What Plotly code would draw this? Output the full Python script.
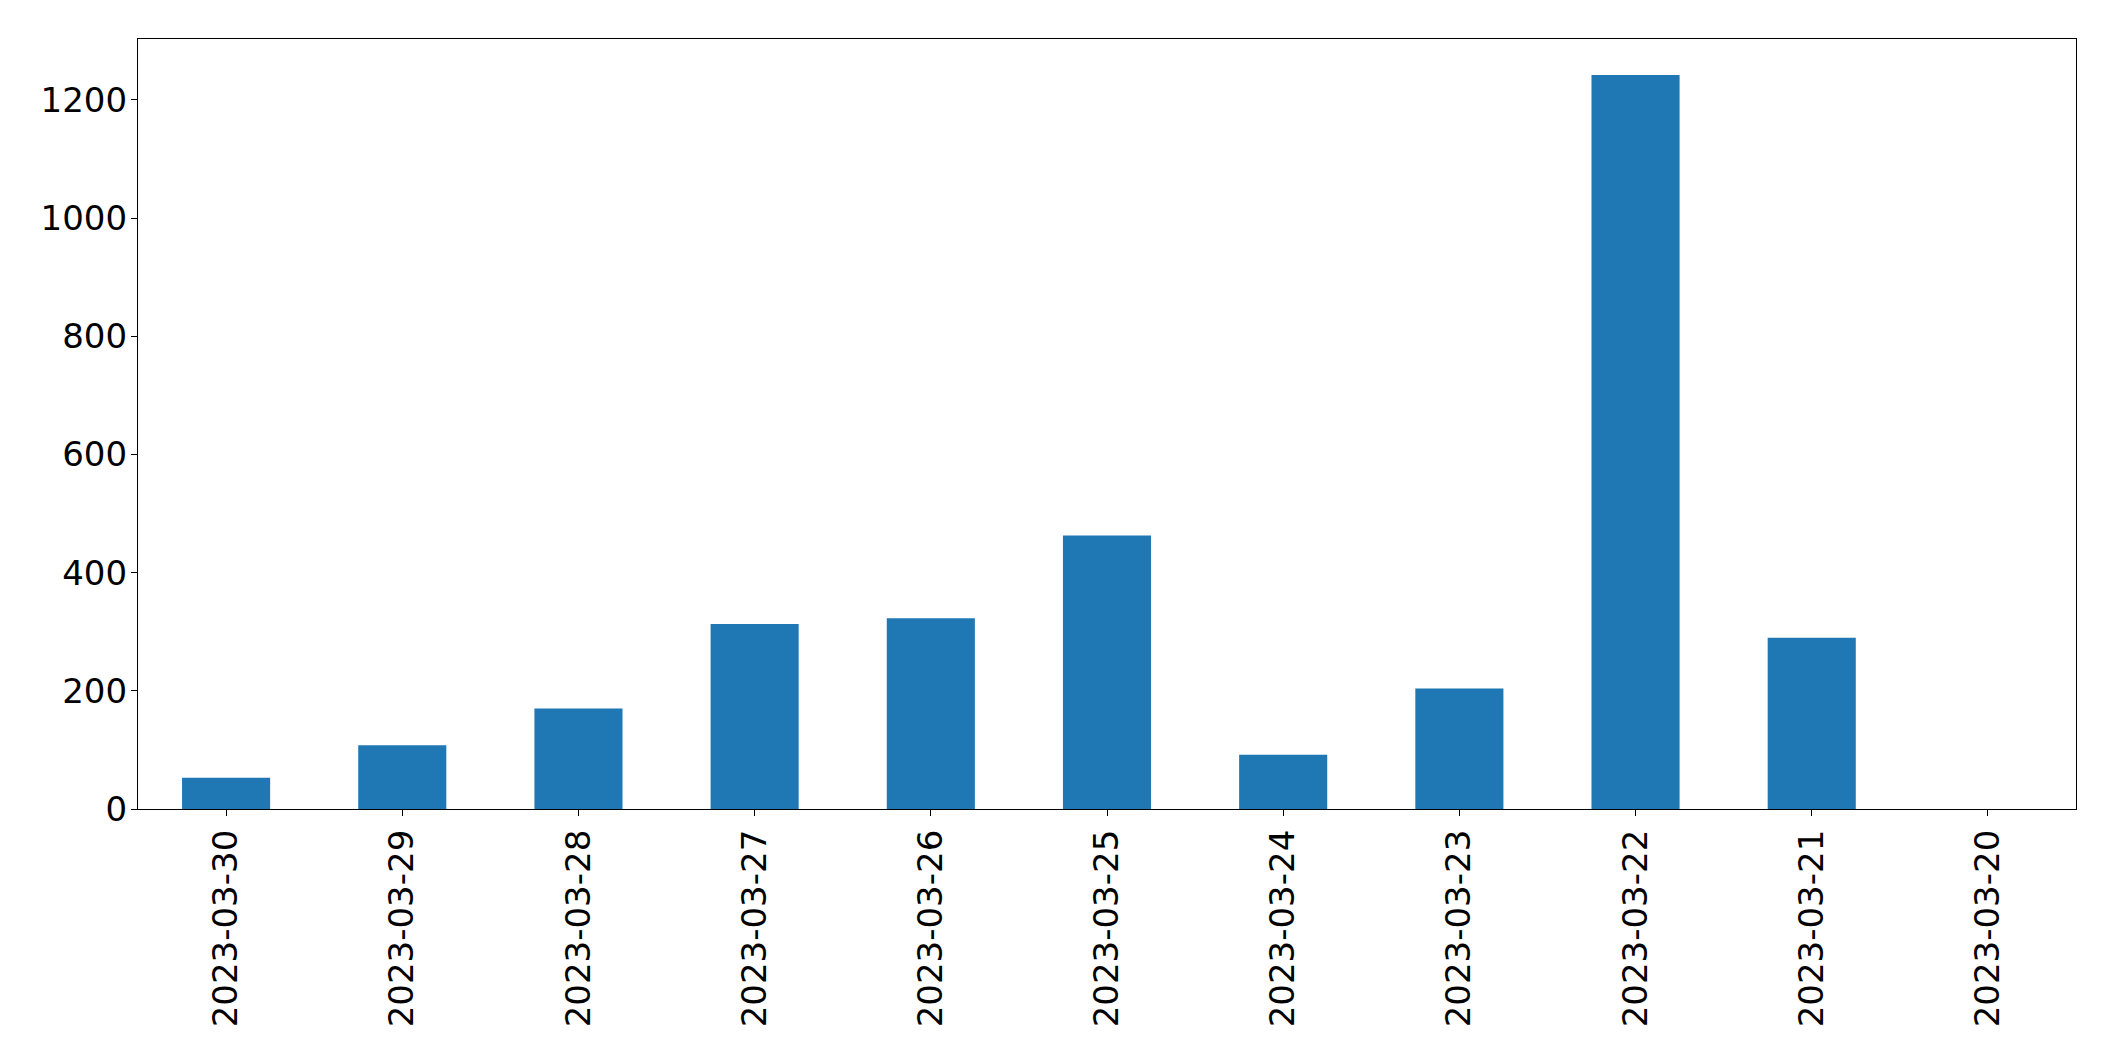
import plotly.graph_objects as go

dates = ["2023-03-30", "2023-03-29", "2023-03-28", "2023-03-27", "2023-03-26",
         "2023-03-25", "2023-03-24", "2023-03-23", "2023-03-22", "2023-03-21",
         "2023-03-20"]
counts = [53, 108, 170, 313, 323, 463, 92, 204, 1242, 290, 0]
y_ticks = [0, 200, 400, 600, 800, 1000, 1200]

fig = go.Figure(go.Bar(x=dates, y=counts, width=0.5, marker=dict(color="#1f77b4", line=dict(width=0))))

font = dict(family="DejaVu Sans", size=34, color="black")
fig.update_layout(
    width=2115, height=1061,
    margin=dict(l=138, r=39, t=39, b=252),
    plot_bgcolor="white", paper_bgcolor="white",
    showlegend=False, font=font,
)
fig.update_xaxes(type="category", range=[-0.5, 10.5], tickangle=-90,
                 showline=True, linecolor="black", linewidth=1.3, mirror=True,
                 ticks="outside", ticklen=6, tickcolor="black", tickwidth=1.3,
                 showgrid=False, zeroline=False, tickfont=font)
fig.update_yaxes(range=[0, 1303], tickvals=y_ticks, ticklabelstandoff=-3,
                 showline=True, linecolor="black", linewidth=1.3, mirror=True,
                 ticks="outside", ticklen=6, tickcolor="black", tickwidth=1.3,
                 showgrid=False, zeroline=False, tickfont=font)

fig.write_html("out.html")
